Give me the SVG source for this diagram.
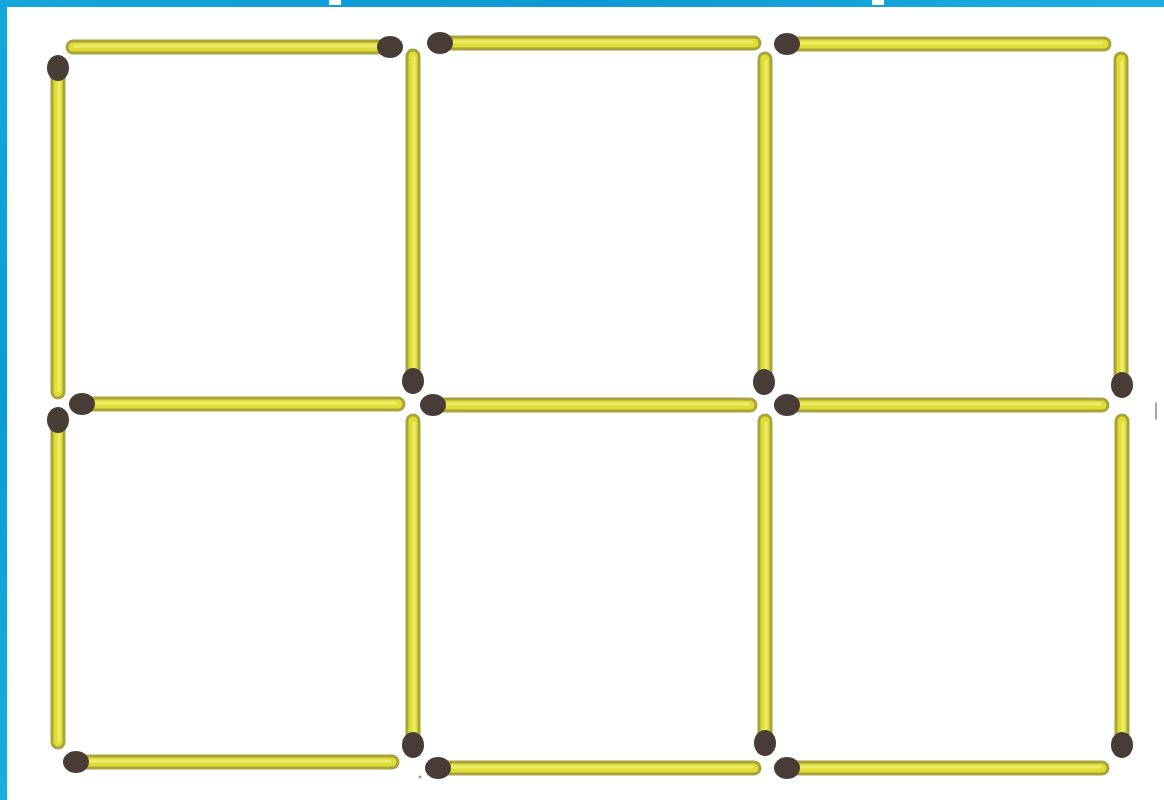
<svg xmlns="http://www.w3.org/2000/svg" width="1164" height="800" viewBox="0 0 1164 800">
  <defs>
    <linearGradient id="blueV" x1="0" y1="0" x2="0" y2="1">
      <stop offset="0" stop-color="#12a8de"/>
      <stop offset="0.5" stop-color="#0a9bd6"/>
      <stop offset="1" stop-color="#18aee2"/>
    </linearGradient>
    <linearGradient id="blueH" x1="0" y1="0" x2="1" y2="0">
      <stop offset="0" stop-color="#14a6dc"/>
      <stop offset="0.5" stop-color="#0c98d4"/>
      <stop offset="1" stop-color="#1cb0e4"/>
    </linearGradient>
    <filter id="soft" x="-20%" y="-20%" width="140%" height="140%">
      <feGaussianBlur stdDeviation="0.7"/>
    </filter>
  </defs>
  <style>
    .o { stroke: #a9a23e; stroke-width: 15; stroke-linecap: round; fill: none; }
    .y { stroke: #dede34; stroke-width: 9; stroke-linecap: round; fill: none; }
    .h { stroke: #ecec6e; stroke-width: 3; stroke-linecap: round; fill: none; }
    .head { fill: #4a3a36; }
    .stick { filter: url(#soft); }
  </style>

  <rect x="0" y="0" width="1164" height="800" fill="#ffffff"/>
  <rect x="0" y="0" width="1164" height="7" fill="url(#blueH)"/>
  <rect x="0" y="0" width="7" height="800" fill="url(#blueV)"/>
  <rect x="329" y="0" width="12" height="5" fill="#ffffff"/>
  <rect x="872" y="0" width="12" height="5" fill="#ffffff"/>

  <g id="sticks">
    <!-- horizontal sticks -->
    <g id="h-top-left" class="stick">
      <line class="o" x1="73" y1="47" x2="386" y2="47"/>
      <line class="y" x1="73" y1="47" x2="386" y2="47"/>
      <line class="h" x1="75" y1="46" x2="384" y2="46"/>
      <ellipse class="head" cx="390" cy="47" rx="13" ry="11"/>
    </g>
    <g id="h-top-middle" class="stick">
      <line class="o" x1="444" y1="43" x2="754" y2="43"/>
      <line class="y" x1="444" y1="43" x2="754" y2="43"/>
      <line class="h" x1="446" y1="42" x2="752" y2="42"/>
      <ellipse class="head" cx="440" cy="43" rx="13" ry="11"/>
    </g>
    <g id="h-top-right" class="stick">
      <line class="o" x1="791" y1="44" x2="1104" y2="44"/>
      <line class="y" x1="791" y1="44" x2="1104" y2="44"/>
      <line class="h" x1="793" y1="43" x2="1102" y2="43"/>
      <ellipse class="head" cx="787" cy="44" rx="13" ry="11"/>
    </g>
    <g id="h-mid-left" class="stick">
      <line class="o" x1="86" y1="404" x2="398" y2="404"/>
      <line class="y" x1="86" y1="404" x2="398" y2="404"/>
      <line class="h" x1="88" y1="403" x2="396" y2="403"/>
      <ellipse class="head" cx="82" cy="404" rx="13" ry="11"/>
    </g>
    <g id="h-mid-center" class="stick">
      <line class="o" x1="437" y1="405" x2="750" y2="405"/>
      <line class="y" x1="437" y1="405" x2="750" y2="405"/>
      <line class="h" x1="439" y1="404" x2="748" y2="404"/>
      <ellipse class="head" cx="433" cy="405" rx="13" ry="11"/>
    </g>
    <g id="h-mid-right" class="stick">
      <line class="o" x1="791" y1="405" x2="1102" y2="405"/>
      <line class="y" x1="791" y1="405" x2="1102" y2="405"/>
      <line class="h" x1="793" y1="404" x2="1100" y2="404"/>
      <ellipse class="head" cx="787" cy="405" rx="13" ry="11"/>
    </g>
    <g id="h-bottom-left" class="stick">
      <line class="o" x1="80" y1="762" x2="392" y2="762"/>
      <line class="y" x1="80" y1="762" x2="392" y2="762"/>
      <line class="h" x1="82" y1="761" x2="390" y2="761"/>
      <ellipse class="head" cx="76" cy="762" rx="13" ry="11"/>
    </g>
    <g id="h-bottom-center" class="stick">
      <line class="o" x1="442" y1="768" x2="754" y2="768"/>
      <line class="y" x1="442" y1="768" x2="754" y2="768"/>
      <line class="h" x1="444" y1="767" x2="752" y2="767"/>
      <ellipse class="head" cx="438" cy="768" rx="13" ry="11"/>
    </g>
    <g id="h-bottom-right" class="stick">
      <line class="o" x1="791" y1="768" x2="1102" y2="768"/>
      <line class="y" x1="791" y1="768" x2="1102" y2="768"/>
      <line class="h" x1="793" y1="767" x2="1100" y2="767"/>
      <ellipse class="head" cx="787" cy="768" rx="13" ry="11"/>
    </g>

    <!-- vertical sticks -->
    <g id="v-left-top" class="stick">
      <line class="o" x1="58" y1="72" x2="58" y2="392"/>
      <line class="y" x1="58" y1="72" x2="58" y2="392"/>
      <line class="h" x1="59" y1="74" x2="59" y2="390"/>
      <ellipse class="head" cx="58" cy="68" rx="11" ry="13"/>
    </g>
    <g id="v-413-top" class="stick">
      <line class="o" x1="413" y1="56" x2="413" y2="377"/>
      <line class="y" x1="413" y1="56" x2="413" y2="377"/>
      <line class="h" x1="414" y1="58" x2="414" y2="375"/>
      <ellipse class="head" cx="413" cy="381" rx="11" ry="13"/>
    </g>
    <g id="v-765-top" class="stick">
      <line class="o" x1="765" y1="59" x2="765" y2="378"/>
      <line class="y" x1="765" y1="59" x2="765" y2="378"/>
      <line class="h" x1="766" y1="61" x2="766" y2="376"/>
      <ellipse class="head" cx="764" cy="382" rx="11" ry="13"/>
    </g>
    <g id="v-right-top" class="stick">
      <line class="o" x1="1121" y1="59" x2="1121" y2="381"/>
      <line class="y" x1="1121" y1="59" x2="1121" y2="381"/>
      <line class="h" x1="1122" y1="61" x2="1122" y2="379"/>
      <ellipse class="head" cx="1122" cy="385" rx="11" ry="13"/>
    </g>
    <g id="v-left-bottom" class="stick">
      <line class="o" x1="58" y1="424" x2="58" y2="742"/>
      <line class="y" x1="58" y1="424" x2="58" y2="742"/>
      <line class="h" x1="59" y1="426" x2="59" y2="740"/>
      <ellipse class="head" cx="58" cy="420" rx="11" ry="13"/>
    </g>
    <g id="v-413-bottom" class="stick">
      <line class="o" x1="413" y1="421" x2="413" y2="741"/>
      <line class="y" x1="413" y1="421" x2="413" y2="741"/>
      <line class="h" x1="414" y1="423" x2="414" y2="739"/>
      <ellipse class="head" cx="413" cy="745" rx="11" ry="13"/>
    </g>
    <g id="v-765-bottom" class="stick">
      <line class="o" x1="765" y1="421" x2="765" y2="739"/>
      <line class="y" x1="765" y1="421" x2="765" y2="739"/>
      <line class="h" x1="766" y1="423" x2="766" y2="737"/>
      <ellipse class="head" cx="765" cy="743" rx="11" ry="13"/>
    </g>
    <g id="v-right-bottom" class="stick">
      <line class="o" x1="1122" y1="421" x2="1122" y2="741"/>
      <line class="y" x1="1122" y1="421" x2="1122" y2="741"/>
      <line class="h" x1="1123" y1="423" x2="1123" y2="739"/>
      <ellipse class="head" cx="1122" cy="745" rx="11" ry="13"/>
    </g>
  </g>

  <line x1="1156" y1="403" x2="1156" y2="419" stroke="#a4a8b8" stroke-width="2" stroke-linecap="round"/>
  <circle cx="420" cy="777" r="1.5" fill="#9a9a8a"/>
</svg>
